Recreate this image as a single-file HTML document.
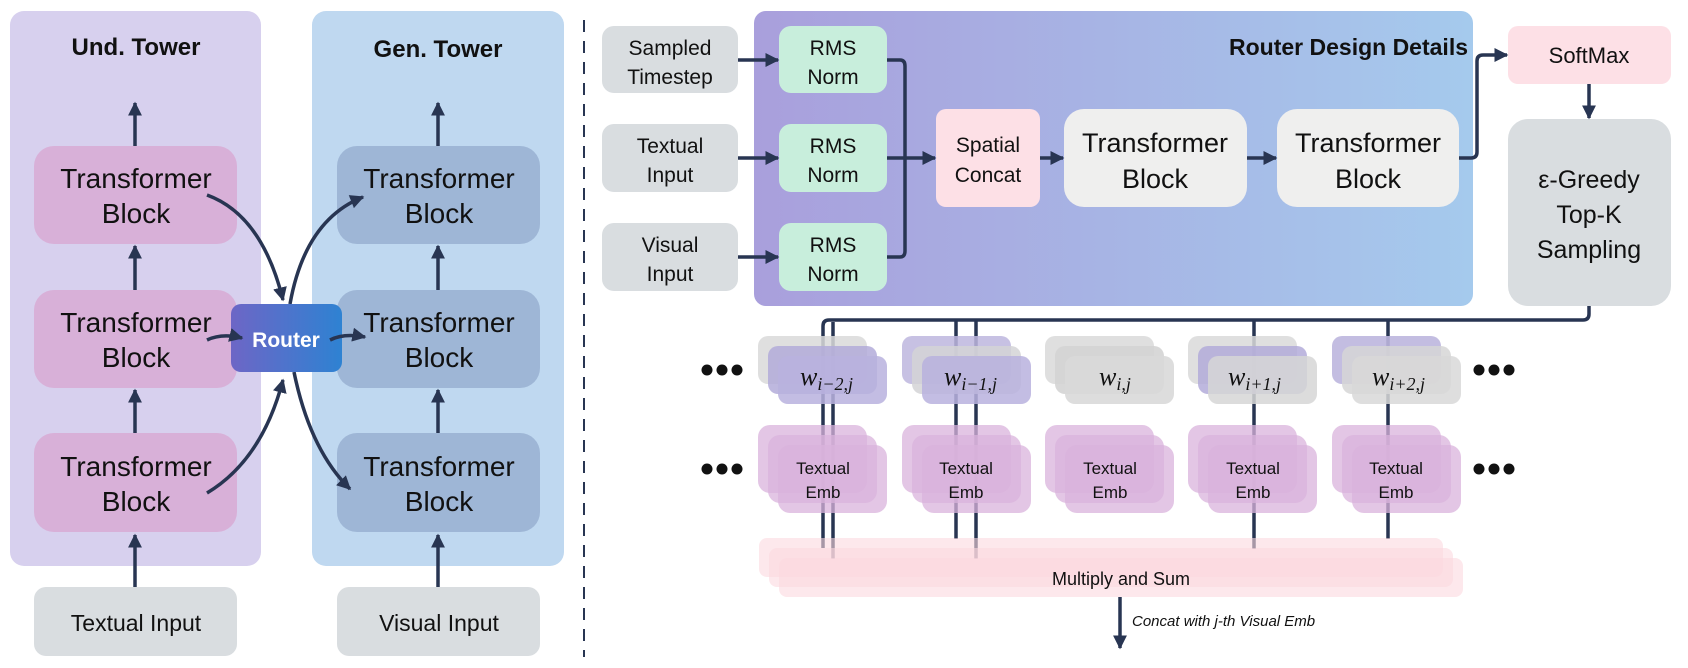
<!DOCTYPE html>
<html><head><meta charset="utf-8"><style>
html,body{margin:0;padding:0;background:#fff}
svg{display:block}
text{font-family:"Liberation Sans",sans-serif;fill:#111}
</style></head><body>
<svg width="1688" height="668" viewBox="0 0 1688 668" xmlns="http://www.w3.org/2000/svg">
<defs>
<marker id="ah" viewBox="0 0 10 10" refX="9" refY="5" markerWidth="4" markerHeight="4" orient="auto-start-reverse"><path d="M0,0 L10,5 L0,10 z" fill="#283552"/></marker>
<linearGradient id="rg" x1="0" x2="1" y1="0" y2="0"><stop offset="0" stop-color="#6d66c6"/><stop offset="1" stop-color="#2e82d2"/></linearGradient>
<linearGradient id="pg" x1="0" x2="1" y1="0" y2="0"><stop offset="0" stop-color="#a99fdc"/><stop offset="1" stop-color="#a5caed"/></linearGradient>
</defs>
<g stroke="#283552" stroke-width="3.5" fill="none">
</g>
<!-- Left panels -->
<rect x="10" y="11" width="251" height="555" rx="14" fill="#d7d0ee"/>
<rect x="312" y="11" width="252" height="555" rx="14" fill="#bfd8f0"/>
<text x="136" y="55" font-size="24" font-weight="bold" text-anchor="middle">Und. Tower</text>
<text x="438" y="57" font-size="24" font-weight="bold" text-anchor="middle">Gen. Tower</text>
<g font-size="28" text-anchor="middle">
<rect x="34" y="146" width="203" height="98" rx="20" fill="#d8b0d8"/>
<rect x="34" y="290" width="203" height="98" rx="20" fill="#d8b0d8"/>
<rect x="34" y="433" width="203" height="99" rx="20" fill="#d8b0d8"/>
<rect x="337" y="146" width="203" height="98" rx="20" fill="#9eb6d6"/>
<rect x="337" y="290" width="203" height="98" rx="20" fill="#9eb6d6"/>
<rect x="337" y="433" width="203" height="99" rx="20" fill="#9eb6d6"/>
<text x="136" y="188">Transformer</text><text x="136" y="223">Block</text>
<text x="136" y="332">Transformer</text><text x="136" y="367">Block</text>
<text x="136" y="476">Transformer</text><text x="136" y="511">Block</text>
<text x="439" y="188">Transformer</text><text x="439" y="223">Block</text>
<text x="439" y="332">Transformer</text><text x="439" y="367">Block</text>
<text x="439" y="476">Transformer</text><text x="439" y="511">Block</text>
</g>
<rect x="34" y="587" width="203" height="69" rx="12" fill="#d9dde0"/>
<rect x="337" y="587" width="203" height="69" rx="12" fill="#d9dde0"/>
<text x="136" y="631" font-size="23" text-anchor="middle">Textual Input</text>
<text x="439" y="631" font-size="23" text-anchor="middle">Visual Input</text>
<g stroke="#283552" stroke-width="3.5" fill="none" marker-end="url(#ah)">
<path d="M135 146 V103"/><path d="M135 290 V246"/><path d="M135 433 V390"/><path d="M135 587 V535"/>
<path d="M438 146 V103"/><path d="M438 290 V246"/><path d="M438 433 V390"/><path d="M438 587 V535"/>
<path d="M207 195 Q262 215 283 300"/>
<path d="M207 493 Q262 460 283 380"/>
<path d="M290 304 Q305 220 363 197"/>
<path d="M294 372 Q310 450 350 489"/>
</g>
<rect x="231" y="304" width="111" height="68" rx="10" fill="url(#rg)"/>
<text x="286" y="347" font-size="21" font-weight="bold" text-anchor="middle" style="fill:#fff">Router</text>
<g stroke="#283552" stroke-width="3.5" fill="none" marker-end="url(#ah)">
<path d="M207 340 Q222 333 242 338"/>
<path d="M330 340 Q344 333 365 337"/>
</g>
<line x1="584" y1="20" x2="584" y2="657" stroke="#283552" stroke-width="2" stroke-dasharray="12,9"/>

<!-- Router design panel -->
<rect x="754" y="11" width="719" height="295" rx="12" fill="url(#pg)"/>
<text x="1468" y="55" font-size="23" font-weight="bold" text-anchor="end">Router Design Details</text>
<g font-size="21" text-anchor="middle">
<rect x="602" y="26" width="136" height="67" rx="12" fill="#d9dde0"/>
<rect x="602" y="124" width="136" height="68" rx="12" fill="#d9dde0"/>
<rect x="602" y="223" width="136" height="68" rx="12" fill="#d9dde0"/>
<text x="670" y="55">Sampled</text><text x="670" y="84">Timestep</text>
<text x="670" y="153">Textual</text><text x="670" y="182">Input</text>
<text x="670" y="252">Visual</text><text x="670" y="281">Input</text>
<rect x="779" y="26" width="108" height="67" rx="12" fill="#c8eedc"/>
<rect x="779" y="124" width="108" height="68" rx="12" fill="#c8eedc"/>
<rect x="779" y="223" width="108" height="68" rx="12" fill="#c8eedc"/>
<text x="833" y="55">RMS</text><text x="833" y="84">Norm</text>
<text x="833" y="153">RMS</text><text x="833" y="182">Norm</text>
<text x="833" y="252">RMS</text><text x="833" y="281">Norm</text>
<rect x="936" y="109" width="104" height="98" rx="10" fill="#fde0e6"/>
<text x="988" y="152">Spatial</text><text x="988" y="182">Concat</text>
</g>
<g font-size="27" text-anchor="middle">
<rect x="1064" y="109" width="183" height="98" rx="20" fill="#efefee"/>
<rect x="1277" y="109" width="182" height="98" rx="20" fill="#efefee"/>
<text x="1155" y="152">Transformer</text><text x="1155" y="188">Block</text>
<text x="1368" y="152">Transformer</text><text x="1368" y="188">Block</text>
</g>
<rect x="1508" y="26" width="163" height="58" rx="10" fill="#fde0e6"/>
<text x="1589" y="63" font-size="22" text-anchor="middle">SoftMax</text>
<rect x="1508" y="119" width="163" height="187" rx="20" fill="#d9dde0"/>
<g font-size="25" text-anchor="middle"><text x="1589" y="188">ε-Greedy</text><text x="1589" y="223">Top-K</text><text x="1589" y="258">Sampling</text></g>
<g stroke="#283552" stroke-width="3.5" fill="none" stroke-linejoin="round">
<path d="M738 60 H778" marker-end="url(#ah)"/>
<path d="M738 158 H778" marker-end="url(#ah)"/>
<path d="M738 257 H778" marker-end="url(#ah)"/>
<path d="M887 60 H900 Q905 60 905 66 V251 Q905 257 900 257 H887"/>
<path d="M887 158 H935" marker-end="url(#ah)"/>
<path d="M1040 158 H1063" marker-end="url(#ah)"/>
<path d="M1247 158 H1276" marker-end="url(#ah)"/>
<path d="M1459 158 H1471 Q1477 158 1477 152 V61 Q1477 55 1483 55 H1507" marker-end="url(#ah)"/>
<path d="M1589 84 V118" marker-end="url(#ah)"/>
<path d="M1589 306 V314 Q1589 320 1583 320 H829 Q823 320 823 326 V548"/>
<path d="M833 322 V559"/>
<path d="M956 320 V539"/><path d="M976 320 V559"/>
<path d="M1254 320 V549"/><path d="M1388 320 V539"/>
</g>
<!-- weight stacks -->
<g>
<rect x="758" y="336" width="109" height="48" rx="10" fill="#d9d9d9" fill-opacity="0.85"/>
<rect x="768" y="346" width="109" height="48" rx="10" fill="#b3acd9" fill-opacity="0.85"/>
<rect x="778" y="356" width="109" height="48" rx="10" fill="#b8b1de" fill-opacity="0.85"/>
<rect x="902" y="336" width="109" height="48" rx="10" fill="#bdb6de" fill-opacity="0.85"/>
<rect x="912" y="346" width="109" height="48" rx="10" fill="#d4d4d6" fill-opacity="0.85"/>
<rect x="922" y="356" width="109" height="48" rx="10" fill="#b8b1de" fill-opacity="0.85"/>
<rect x="1045" y="336" width="109" height="48" rx="10" fill="#dcdcdc" fill-opacity="0.9"/>
<rect x="1055" y="346" width="109" height="48" rx="10" fill="#d4d4d4" fill-opacity="0.9"/>
<rect x="1065" y="356" width="109" height="48" rx="10" fill="#d9d9d9" fill-opacity="0.9"/>
<rect x="1188" y="336" width="109" height="48" rx="10" fill="#d9d9d9" fill-opacity="0.85"/>
<rect x="1198" y="346" width="109" height="48" rx="10" fill="#b3acd9" fill-opacity="0.85"/>
<rect x="1208" y="356" width="109" height="48" rx="10" fill="#d6d6d6" fill-opacity="0.85"/>
<rect x="1332" y="336" width="109" height="48" rx="10" fill="#bdb6de" fill-opacity="0.9"/>
<rect x="1342" y="346" width="109" height="48" rx="10" fill="#d6d6d6" fill-opacity="0.85"/>
<rect x="1352" y="356" width="109" height="48" rx="10" fill="#d8d8d8" fill-opacity="0.85"/>
</g>
<g font-family="Liberation Serif,serif" font-style="italic" font-size="26">
<text x="800" y="385" style="font-family:'Liberation Serif',serif">w<tspan font-size="18" dy="5">i−2,j</tspan></text>
<text x="944" y="385" style="font-family:'Liberation Serif',serif">w<tspan font-size="18" dy="5">i−1,j</tspan></text>
<text x="1099" y="385" style="font-family:'Liberation Serif',serif">w<tspan font-size="18" dy="5">i,j</tspan></text>
<text x="1228" y="385" style="font-family:'Liberation Serif',serif">w<tspan font-size="18" dy="5">i+1,j</tspan></text>
<text x="1372" y="385" style="font-family:'Liberation Serif',serif">w<tspan font-size="18" dy="5">i+2,j</tspan></text>
</g>
<!-- emb stacks -->
<g fill="#d9b3dc" fill-opacity="0.75">
<rect x="758" y="425" width="109" height="68" rx="12"/><rect x="768" y="435" width="109" height="68" rx="12"/><rect x="778" y="445" width="109" height="68" rx="12"/>
<rect x="902" y="425" width="109" height="68" rx="12"/><rect x="912" y="435" width="109" height="68" rx="12"/><rect x="922" y="445" width="109" height="68" rx="12"/>
<rect x="1045" y="425" width="109" height="68" rx="12"/><rect x="1055" y="435" width="109" height="68" rx="12"/><rect x="1065" y="445" width="109" height="68" rx="12"/>
<rect x="1188" y="425" width="109" height="68" rx="12"/><rect x="1198" y="435" width="109" height="68" rx="12"/><rect x="1208" y="445" width="109" height="68" rx="12"/>
<rect x="1332" y="425" width="109" height="68" rx="12"/><rect x="1342" y="435" width="109" height="68" rx="12"/><rect x="1352" y="445" width="109" height="68" rx="12"/>
</g>
<g font-size="17" text-anchor="middle">
<text x="823" y="474">Textual</text><text x="823" y="498">Emb</text>
<text x="966" y="474">Textual</text><text x="966" y="498">Emb</text>
<text x="1110" y="474">Textual</text><text x="1110" y="498">Emb</text>
<text x="1253" y="474">Textual</text><text x="1253" y="498">Emb</text>
<text x="1396" y="474">Textual</text><text x="1396" y="498">Emb</text>
</g>
<g fill="#111">
<circle cx="707" cy="370" r="5.5"/><circle cx="722" cy="370" r="5.5"/><circle cx="737" cy="370" r="5.5"/>
<circle cx="707" cy="469" r="5.5"/><circle cx="722" cy="469" r="5.5"/><circle cx="737" cy="469" r="5.5"/>
<circle cx="1479" cy="370" r="5.5"/><circle cx="1494" cy="370" r="5.5"/><circle cx="1509" cy="370" r="5.5"/>
<circle cx="1479" cy="469" r="5.5"/><circle cx="1494" cy="469" r="5.5"/><circle cx="1509" cy="469" r="5.5"/>
</g>
<g fill="#fcd9e0" fill-opacity="0.6">
<rect x="759" y="538" width="684" height="39" rx="8"/>
<rect x="769" y="548" width="684" height="39" rx="8"/>
<rect x="779" y="558" width="684" height="39" rx="8"/>
</g>
<text x="1121" y="585" font-size="18" text-anchor="middle">Multiply and Sum</text>
<path d="M1120 597 V648" stroke="#283552" stroke-width="3.5" marker-end="url(#ah)"/>
<text x="1132" y="626" font-size="15" font-style="italic">Concat with j-th Visual Emb</text>
</svg>
</body></html>
